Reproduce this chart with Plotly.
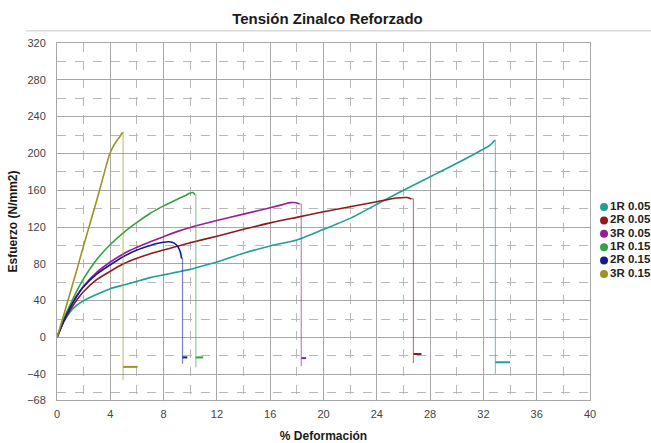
import plotly.graph_objects as go

# ---------------- data ----------------
series_names = ["1R 0.05", "2R 0.05", "3R 0.05", "1R 0.15", "2R 0.15", "3R 0.15"]
series_colors = ["#1f9e9c", "#8e1a1a", "#9a1c9c", "#34a23e", "#121c8e", "#9b9424"]

x_1r005 = [0, 0.25, 0.5, 1, 1.5, 2, 3, 4, 5, 6, 7, 8, 9, 10, 11, 12, 14, 16, 18, 20, 22, 24.5, 26, 28.2, 30.7, 32.5, 32.85]
y_1r005 = [0, 9, 17, 28, 35, 40, 47, 53, 57, 61, 65, 68, 71, 74, 78, 82, 91.5, 99.4, 106, 117.5, 129.4, 148.6, 160, 176, 194.5, 209, 214.4]

x_2r005 = [0, 0.25, 0.5, 1, 1.5, 2, 3, 4, 5, 6, 7, 8, 9, 10, 12, 14, 16, 18, 20, 22, 24, 25.5, 26.3, 26.6]
y_2r005 = [0, 9, 17, 30, 41, 50, 63, 72, 80, 86, 91, 95, 99, 103, 110, 117.5, 124.5, 130.5, 136.5, 142, 147.5, 151.5, 152, 150.5]

x_3r005 = [0, 0.25, 0.5, 1, 1.5, 2, 3, 4, 5, 6, 7, 8, 9, 10, 12, 14, 16, 17, 17.5, 17.95, 18.2]
y_3r005 = [0, 9, 18, 33, 46, 56, 71, 82, 91, 98, 104, 109.5, 115, 119.5, 127, 134, 141, 144.6, 146.5, 146.4, 145]

x_1r015 = [0, 0.25, 0.5, 1, 1.5, 2, 3, 4, 5, 6, 7, 8, 9, 9.6, 10.0, 10.2, 10.35]
y_1r015 = [0, 10, 20, 36, 51, 64, 85, 101, 114, 125, 135, 143, 150, 154, 157, 157.5, 155]

x_2r015 = [0, 0.25, 0.5, 1, 1.5, 2, 3, 4, 5, 6, 7, 7.5, 8, 8.4, 8.8, 9.05, 9.25, 9.35]
y_2r015 = [0, 9, 18, 33, 45, 55, 69, 79, 88, 95, 100, 102, 103.5, 104, 102.5, 99, 93, 86]

x_3r015 = [0, 0.5, 1, 1.5, 2, 2.5, 3, 3.4, 3.7, 3.95, 4.2, 4.5, 4.75, 4.93]
y_3r015 = [0, 24, 49, 74, 100, 125, 150, 171, 187, 199, 207, 214, 219, 223]

# fracture: x of drop, lowest point of drop, level of tail, end x of tail
fracture_x = [32.9, 26.75, 18.33, 10.42, 9.42, 4.96]
fracture_bottom = [-39.5, -27.8, -31.4, -32.5, -28.5, -46]
tail_y = [-27, -18, -22.5, -21.7, -21.7, -32]
tail_end_x = [34.0, 27.35, 18.7, 10.97, 9.78, 6.05]

curves_x = [x_1r005, x_2r005, x_3r005, x_1r015, x_2r015, x_3r015]
curves_y = [y_1r005, y_2r005, y_3r005, y_1r015, y_2r015, y_3r015]

x_ticks = list(range(0, 41, 4))
x_minor = list(range(2, 40, 4))
y_ticks = [-68, -40, 0, 40, 80, 120, 160, 200, 240, 280, 320]
y_minor = [-60, -20, 20, 60, 100, 140, 180, 220, 260, 300]

# ---------------- figure ----------------
FONT = "Liberation Sans, Arial, sans-serif"
W, H = 651, 443
ML, MT, MB = 57, 43, 43
plot_right = 590          # pixel where x = 40 sits
main_frac = (plot_right - ML) / (W - ML)

fig = go.Figure()

for i in range(len(series_names)):
    col = series_colors[i]
    cx, cy = curves_x[i], curves_y[i]
    fig.add_trace(go.Scatter(x=cx, y=cy, mode="lines", line=dict(color=col, width=1.6, shape="spline", smoothing=0.6),
                             showlegend=False, hoverinfo="skip"))
    fig.add_trace(go.Scatter(x=[cx[-1], fracture_x[i], fracture_x[i]], y=[cy[-1], cy[-1], fracture_bottom[i]],
                             mode="lines", line=dict(color=col, width=1.2), opacity=0.55,
                             showlegend=False, hoverinfo="skip"))
    fig.add_trace(go.Scatter(x=[fracture_x[i], tail_end_x[i]], y=[tail_y[i], tail_y[i]],
                             mode="lines", line=dict(color=col, width=2),
                             showlegend=False, hoverinfo="skip"))

# legend drawn on an auxiliary (hidden) axis pair at the right
legend_index = [-k for k in range(len(series_names))]
fig.add_trace(go.Scatter(
    x=[0.23] * len(series_names), y=legend_index, xaxis="x2", yaxis="y2",
    mode="markers+text", text=series_names, textposition="middle right",
    marker=dict(color=series_colors, size=8, symbol="circle"),
    textfont=dict(family=FONT, size=11.5, color="#222", weight="bold"),
    showlegend=False, hoverinfo="skip"))

row_px = 13.4
first_row_py = 207
top_val = (first_row_py - MT) / row_px
span = (H - MT - MB) / row_px

fig.update_layout(
    width=W, height=H,
    margin=dict(l=ML, r=0, t=MT, b=MB, autoexpand=False),
    paper_bgcolor="white", plot_bgcolor="white",
    showlegend=False,
    title=dict(text="Tensión Zinalco Reforzado", x=0.503, xanchor="center", y=0.958, yanchor="middle",
               font=dict(family=FONT, size=15, color="#1a1a1a", weight="bold")),
    font=dict(family=FONT, size=11, color="#444"),
    xaxis2=dict(domain=[main_frac, 1], range=[0, 1], visible=False, fixedrange=True),
    yaxis2=dict(anchor="x2", range=[top_val - span, top_val], visible=False, fixedrange=True),
    shapes=[dict(type="line", xref="paper", yref="paper", x0=-0.052, x1=1.0, y0=1.034, y1=1.034,
                 line=dict(color="#c8c8c8", width=1))],
)

fig.update_layout(xaxis=dict(
    domain=[0, main_frac],
    range=[0, 40], tickvals=x_ticks, showgrid=True, gridcolor="#a8a8a8", gridwidth=1,
    zeroline=False, showline=True, mirror=True, linecolor="#a8a8a8", linewidth=1,
    tickfont=dict(family=FONT, size=11, color="#444"), ticklabelstandoff=4,
    minor=dict(tickvals=x_minor, showgrid=True, gridcolor="#b8b8b8", griddash="dash", gridwidth=1),
    title=dict(text="% Deformación", font=dict(family=FONT, size=12, color="#1a1a1a", weight="bold"), standoff=16),
))
fig.update_layout(yaxis=dict(
    range=[-68, 320], tickvals=y_ticks, showgrid=True, gridcolor="#a8a8a8", gridwidth=1,
    zeroline=False, showline=True, mirror=True, linecolor="#a8a8a8", linewidth=1,
    tickfont=dict(family=FONT, size=11, color="#444"), ticklabelstandoff=8,
    minor=dict(tickvals=y_minor, showgrid=True, gridcolor="#b8b8b8", griddash="dash", gridwidth=1),
    title=dict(text="Esfuerzo (N/mm2)", font=dict(family=FONT, size=12, color="#1a1a1a", weight="bold"), standoff=6),
))

fig.write_html("out.html")
